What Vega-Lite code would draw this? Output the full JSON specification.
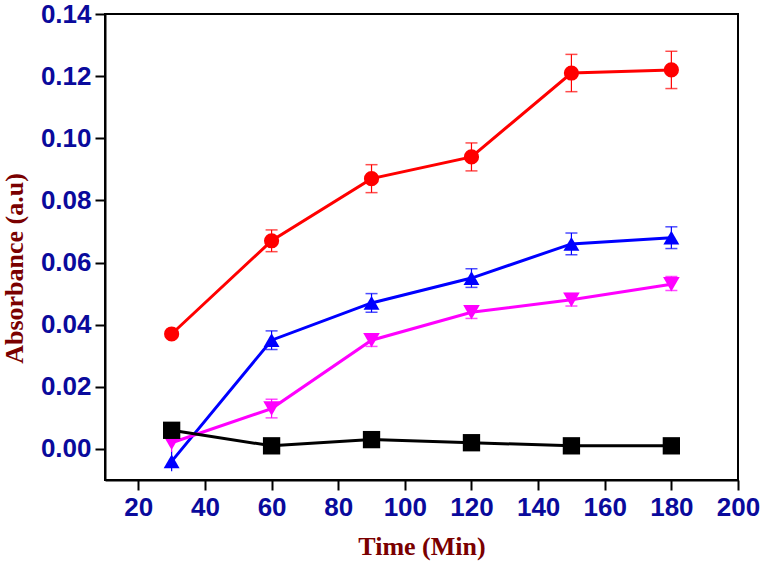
{
  "$schema": "https://vega.github.io/schema/vega-lite/v6.json",
  "width": 633,
  "height": 466,
  "autosize": "none",
  "padding": {"left": 105, "top": 14, "right": 24, "bottom": 84},
  "background": "white",
  "config": {
    "view": {"stroke": "black", "strokeWidth": 2},
    "axis": {
      "grid": false,
      "domainColor": "black",
      "domainWidth": 2,
      "tickColor": "black",
      "tickWidth": 2,
      "tickSize": 10,
      "labelFlush": false,
      "labelOverlap": false,
      "labelBound": false,
      "labelFont": "Liberation Sans",
      "labelFontWeight": "bold",
      "labelFontSize": 26,
      "labelColor": "#0a0a9c",
      "titleFont": "Liberation Serif",
      "titleFontWeight": "bold",
      "titleFontSize": 26,
      "titleColor": "#7a0000"
    }
  },
  "data": {
    "values": [
      {"series": "A", "time": 30, "value": 0.037, "lo": 0.036, "hi": 0.038},
      {"series": "A", "time": 60, "value": 0.067, "lo": 0.0635, "hi": 0.0705},
      {"series": "A", "time": 90, "value": 0.087, "lo": 0.0825, "hi": 0.0915},
      {"series": "A", "time": 120, "value": 0.094, "lo": 0.0895, "hi": 0.0985},
      {"series": "A", "time": 150, "value": 0.121, "lo": 0.115, "hi": 0.127},
      {"series": "A", "time": 180, "value": 0.122, "lo": 0.116, "hi": 0.128},
      {"series": "B", "time": 30, "value": -0.004, "lo": -0.0072, "hi": -0.0008},
      {"series": "B", "time": 60, "value": 0.035, "lo": 0.032, "hi": 0.038},
      {"series": "B", "time": 90, "value": 0.047, "lo": 0.044, "hi": 0.050},
      {"series": "B", "time": 120, "value": 0.055, "lo": 0.052, "hi": 0.058},
      {"series": "B", "time": 150, "value": 0.066, "lo": 0.0625, "hi": 0.0695},
      {"series": "B", "time": 180, "value": 0.068, "lo": 0.0645, "hi": 0.0715},
      {"series": "C", "time": 30, "value": 0.002, "lo": -0.001, "hi": 0.0052},
      {"series": "C", "time": 60, "value": 0.013, "lo": 0.010, "hi": 0.016},
      {"series": "C", "time": 90, "value": 0.035, "lo": 0.033, "hi": 0.037},
      {"series": "C", "time": 120, "value": 0.044, "lo": 0.042, "hi": 0.046},
      {"series": "C", "time": 150, "value": 0.048, "lo": 0.046, "hi": 0.050},
      {"series": "C", "time": 180, "value": 0.053, "lo": 0.051, "hi": 0.0555},
      {"series": "D", "time": 30, "value": 0.006, "lo": 0.006, "hi": 0.006},
      {"series": "D", "time": 60, "value": 0.001, "lo": 0.001, "hi": 0.001},
      {"series": "D", "time": 90, "value": 0.003, "lo": 0.003, "hi": 0.003},
      {"series": "D", "time": 120, "value": 0.002, "lo": 0.002, "hi": 0.002},
      {"series": "D", "time": 150, "value": 0.001, "lo": 0.001, "hi": 0.001},
      {"series": "D", "time": 180, "value": 0.001, "lo": 0.001, "hi": 0.001}
    ]
  },
  "encoding": {
    "x": {
      "field": "time",
      "type": "quantitative",
      "scale": {"domain": [10, 200], "nice": false},
      "axis": {"values": [20, 40, 60, 80, 100, 120, 140, 160, 180, 200], "title": "Time (Min)", "titleY": 66, "titleBaseline": "middle", "labelPadding": 4}
    },
    "color": {
      "field": "series",
      "type": "nominal",
      "scale": {"domain": ["A", "B", "C", "D"], "range": ["#ff0000", "#0000ff", "#ff00ff", "#000000"]},
      "legend": null
    }
  },
  "layer": [
    {
      "transform": [{"filter": "datum.series != 'D'"}],
      "mark": {"type": "rule", "strokeWidth": 1.2},
      "encoding": {
        "y": {"field": "lo", "type": "quantitative"},
        "y2": {"field": "hi"}
      }
    },
    {
      "transform": [{"filter": "datum.series != 'D' && datum.time > 30"}],
      "mark": {"type": "tick", "orient": "horizontal", "size": 12, "thickness": 1.5},
      "encoding": {"y": {"field": "lo", "type": "quantitative"}}
    },
    {
      "transform": [{"filter": "datum.series != 'D' && datum.time > 30"}],
      "mark": {"type": "tick", "orient": "horizontal", "size": 12, "thickness": 1.5},
      "encoding": {"y": {"field": "hi", "type": "quantitative"}}
    },
    {
      "mark": {"type": "line", "strokeWidth": 3},
      "encoding": {
        "y": {"field": "value", "type": "quantitative"},
        "detail": {"field": "series"}
      }
    },
    {
      "mark": {"type": "point", "filled": true, "opacity": 1},
      "encoding": {
        "y": {
          "field": "value",
          "type": "quantitative",
          "scale": {"domain": [-0.01, 0.14], "nice": false, "zero": false},
          "axis": {"values": [0, 0.02, 0.04, 0.06, 0.08, 0.1, 0.12, 0.14], "format": ".2f", "title": "Absorbance (a.u)", "titleX": -91, "titleY": 254, "titleAngle": 270, "titleAlign": "center", "titleBaseline": "middle", "labelPadding": 4}
        },
        "shape": {
          "field": "series",
          "type": "nominal",
          "scale": {"domain": ["A", "B", "C", "D"], "range": ["circle", "triangle-up", "triangle-down", "square"]},
          "legend": null
        },
        "size": {
          "field": "series",
          "type": "nominal",
          "scale": {"domain": ["A", "B", "C", "D"], "range": [230, 300, 300, 196]},
          "legend": null
        }
      }
    }
  ]
}
